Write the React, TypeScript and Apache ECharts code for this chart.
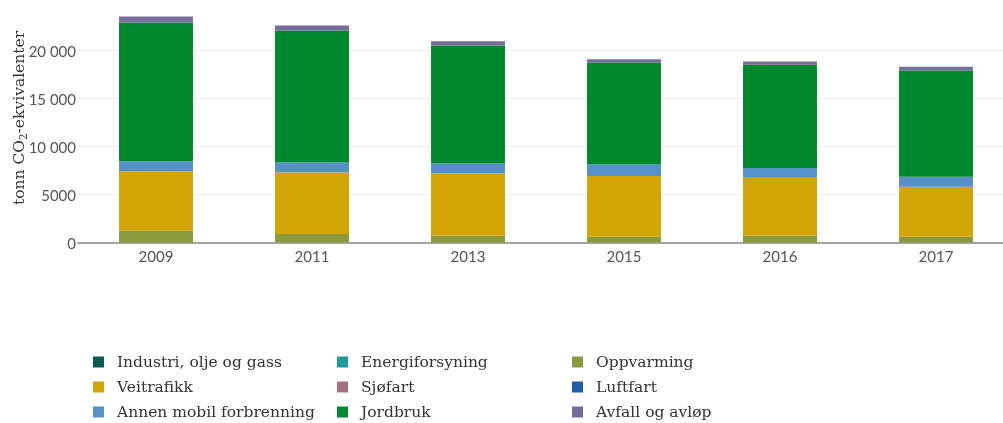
import React, { useEffect, useRef } from "react";
import * as echarts from "echarts";

const years = ["2009", "2011", "2013", "2015", "2016", "2017"];
const industri = [0, 0, 0, 0, 0, 0];
const energi = [0, 0, 0, 0, 0, 0];
const oppvarming = [1226, 883, 706, 603, 706, 603];
const veitrafikk = [6203, 6407, 6484, 6337, 6026, 5194];
const sjofart = [0, 0, 0, 0, 0, 0];
const luftfart = [0, 0, 0, 0, 0, 0];
const annenMobil = [1038, 1042, 1038, 1185, 1039, 1039];
const jordbruk = [14442, 13746, 12291, 10628, 10743, 11086];
const avfall = [623, 519, 447, 343, 343, 384];
const yTicks = [0, 5000, 10000, 15000, 20000];

const seriesDefs = [
  { name: "Industri, olje og gass", data: industri, color: "#0b5e4f" },
  { name: "Energiforsyning", data: energi, color: "#1a9e9e" },
  { name: "Oppvarming", data: oppvarming, color: "#8a9a3c" },
  { name: "Veitrafikk", data: veitrafikk, color: "#d4a506" },
  { name: "Sjøfart", data: sjofart, color: "#a8707e" },
  { name: "Luftfart", data: luftfart, color: "#1f5fa8" },
  { name: "Annen mobil forbrenning", data: annenMobil, color: "#5591c8" },
  { name: "Jordbruk", data: jordbruk, color: "#00892e" },
  { name: "Avfall og avløp", data: avfall, color: "#776d9a" },
];

const legendCols = [
  { left: 93, names: ["Industri, olje og gass", "Veitrafikk", "Annen mobil forbrenning"] },
  { left: 337, names: ["Energiforsyning", "Sjøfart", "Jordbruk"] },
  { left: 572, names: ["Oppvarming", "Luftfart", "Avfall og avløp"] },
];

function fmt(v: number) {
  if (v >= 10000) {
    const s = String(v);
    return s.slice(0, s.length - 3) + " " + s.slice(s.length - 3);
  }
  return String(v);
}

export default function App() {
  const ref = useRef<HTMLDivElement>(null);
  useEffect(() => {
    if (!ref.current) return;
    const chart = echarts.init(ref.current, null, { renderer: "svg" });
    chart.setOption({
      animation: false,
      grid: { left: 78, right: 6, top: 2.5, bottom: 180.5, containLabel: false, outerBoundsMode: "none" },
      graphic: [
        {
          type: "text",
          x: 19,
          y: 118,
          rotation: Math.PI / 2,
          style: {
            text: "tonn CO{sub|2}-ekvivalenter",
            fontFamily: "DejaVu Serif",
            fontSize: 15.5,
            fill: "#333",
            align: "center",
            verticalAlign: "middle",
            rich: {
              sub: { fontFamily: "DejaVu Serif", fontSize: 10.5, fill: "#333", verticalAlign: "bottom", padding: [7, 0, 0, 0] },
            },
          },
        },
      ],
      legend: legendCols.map((c) => ({
        orient: "vertical",
        left: c.left,
        top: 354,
        height: 80,
        padding: 0,
        data: c.names,
        icon: "rect",
        itemWidth: 11,
        itemHeight: 11,
        itemGap: 9,
        selectedMode: false,
        textStyle: {
          fontFamily: "DejaVu Serif",
          fontSize: 15.5,
          color: "#333",
          lineHeight: 15.5,
          padding: [0, 0, 0, 8],
        },
      })),
      xAxis: {
        type: "category",
        data: years,
        axisLine: { lineStyle: { color: "#888", width: 1.5 } },
        axisTick: { show: false },
        axisLabel: { color: "#555", fontFamily: "Lato", fontSize: 15, margin: 6 },
      },
      yAxis: {
        type: "value",
        min: yTicks[0],
        max: 25000,
        interval: 5000,
        axisLine: { show: false },
        axisTick: { show: false },
        splitLine: { show: true, showMaxLine: false, lineStyle: { color: "#efefef" } },
        axisLabel: {
          color: "#555",
          fontFamily: "Lato",
          fontSize: 15,
          margin: 2,
          showMaxLabel: false,
          formatter: (v: number) => fmt(v),
        },
      },
      series: seriesDefs.map((s) => ({
        name: s.name,
        type: "bar",
        stack: "total",
        data: s.data,
        barWidth: "47.4%",
        itemStyle: { color: s.color },
        emphasis: { disabled: true },
      })),
    });
    return () => chart.dispose();
  }, []);
  return (
    <div
      ref={ref}
      style={{ position: "fixed", left: 0, top: 0, width: 1020, height: 423 }}
    />
  );
}
